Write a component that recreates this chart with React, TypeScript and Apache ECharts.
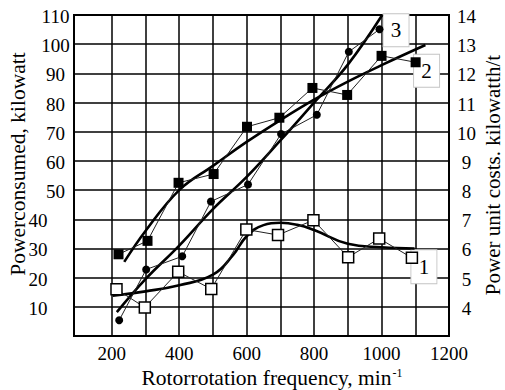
import React, { useEffect, useRef } from "react";
import * as echarts from "echarts";

// Axis ticks / grid
const xLabelValues = [200, 400, 600, 800, 1000, 1200];
const xGridValues = [200, 300, 400, 500, 600, 700, 800, 900, 1000, 1100];

// Measured points (x = rotor rotation frequency, y = power consumed on the left scale)
const curve1Points: [number, number][] = [
  [214, 16], [298, 9.8], [397, 22], [495, 16.1], [599, 36.5],
  [693, 34.6], [798, 39.7], [901, 27], [993, 33.4], [1090, 26.8],
];
const curve2Points: [number, number][] = [
  [220, 28], [306, 32.6], [398, 52.5], [502, 55.5], [601, 71.7],
  [697, 74.8], [795, 85], [898, 82.6], [1000, 96], [1101, 93.8],
];
const curve3Points: [number, number][] = [
  [222, 5.4], [302, 22.8], [409, 27.3], [494, 46.1], [604, 51.9],
  [702, 69.2], [808, 75.8], [903, 97.4], [994, 105.1],
];

// Fitted (trend) curves
const fit1: [number, number][] = [
  [203, 13.8], [300, 15.3], [400, 17.4], [500, 21], [560, 27.8],
  [600, 34.2], [650, 38], [700, 38.8], [750, 38.1], [800, 36.3],
  [900, 31.6], [1000, 30.4], [1098, 30],
];
const fit2: [number, number][] = [
  [237, 25.4], [300, 36], [400, 50], [500, 58.3], [600, 66.5],
  [700, 74], [800, 81], [900, 87.2], [1000, 92.8], [1130, 99.7],
];
const fit3: [number, number][] = [
  [215, 8.2], [300, 19.5], [400, 31], [500, 43.5], [600, 54.5],
  [700, 67], [800, 80], [900, 93], [1002, 110],
];

const curveLabels = ["1", "2", "3"];

const FONT = "Liberation Serif, Times New Roman, serif";

export default function App() {
  const ref = useRef<HTMLDivElement>(null);
  useEffect(() => {
    if (!ref.current) return;
    const chart = echarts.init(ref.current, null, { renderer: "svg" });

    const boxLabel = (
      pt: [number, number],
      text: string,
      offset: [number, number],
      size: [number, number]
    ) => ({
      z: 1,
      silent: true,
      data: [
        {
          coord: pt,
          symbol: "rect",
          symbolSize: size,
          symbolOffset: offset,
          itemStyle: { color: "#fff", borderColor: "#c4c4c4", borderWidth: 1 },
          label: {
            show: true,
            position: "inside",
            formatter: text,
            fontFamily: FONT,
            fontSize: 21,
            color: "#000",
          },
        },
      ],
    });

    const labelStyle = { fontFamily: FONT, fontSize: 19, color: "#000" };

    chart.setOption({
      animation: false,
      backgroundColor: "#fff",
      textStyle: { fontFamily: FONT },
      grid: {
        left: 74,
        top: 15,
        width: 375,
        height: 321,
        show: true,
        borderColor: "#000",
        borderWidth: 2,
        backgroundColor: "transparent",
      },
      xAxis: {
        type: "value",
        min: 88,
        max: 1200,
        axisLine: { show: false },
        axisTick: { show: false },
        splitLine: { show: false },
        axisLabel: {
          ...labelStyle,
          customValues: xLabelValues,
          margin: 8,
          formatter: (v: number) => String(v),
        },
      },
      yAxis: [
        {
          type: "value",
          min: 0,
          max: 110,
          interval: 10,
          position: "left",
          axisLine: { show: false },
          axisTick: { show: false },
          splitLine: { show: true, lineStyle: { color: "#000", width: 1.5 } },
          axisLabel: {
            ...labelStyle,
            showMinLabel: false,
            align: "center",
            margin: 18.5,
            formatter: (v: number) => (v <= 40 ? `{lo|${v}}` : `{hi|${v}}`),
            rich: {
              lo: { fontFamily: FONT, fontSize: 19, color: "#000", padding: [3, 35, 0, 0] },
              hi: { fontFamily: FONT, fontSize: 19, color: "#000", padding: [3, 0, 0, 0] },
            },
          },
        },
        {
          type: "value",
          min: 3,
          max: 14,
          interval: 1,
          position: "right",
          axisLine: { show: false },
          axisTick: { show: false },
          splitLine: { show: false },
          axisLabel: {
            ...labelStyle,
            showMinLabel: false,
            align: "center",
            margin: 17.5,
            formatter: (v: number) => `{r|${v}}`,
            rich: { r: { fontFamily: FONT, fontSize: 19, color: "#000", padding: [3, 0, 0, 0] } },
          },
        },
      ],
      series: [
        {
          type: "line",
          data: fit1,
          smooth: 0.45,
          showSymbol: false,
          silent: true,
          lineStyle: { color: "#000", width: 2.6 },
          markLine: {
            z: 1,
            silent: true,
            symbol: ["none", "none"],
            label: { show: false },
            lineStyle: { color: "#000", width: 1.5, type: "solid" },
            data: xGridValues.map((v) => ({ xAxis: v })),
          },
        },
        {
          type: "line",
          data: fit2,
          smooth: 0.4,
          showSymbol: false,
          silent: true,
          lineStyle: { color: "#000", width: 2.6 },
        },
        {
          type: "line",
          data: fit3,
          smooth: 0.4,
          showSymbol: false,
          silent: true,
          lineStyle: { color: "#000", width: 2.6 },
        },
        {
          type: "line",
          data: curve1Points,
          symbol: "rect",
          symbolSize: 11,
          silent: true,
          lineStyle: { color: "#222", width: 1 },
          itemStyle: { color: "#fff", borderColor: "#000", borderWidth: 1.5 },
          markPoint: boxLabel(curve1Points[curve1Points.length - 1], curveLabels[0], [12, 9], [26, 34]),
        },
        {
          type: "line",
          data: curve2Points,
          symbol: "rect",
          symbolSize: 10,
          silent: true,
          lineStyle: { color: "#222", width: 1 },
          itemStyle: { color: "#000", borderColor: "#000", borderWidth: 0 },
          markPoint: boxLabel(curve2Points[curve2Points.length - 1], curveLabels[1], [11, 8.5], [26, 33]),
        },
        {
          type: "line",
          data: curve3Points,
          symbol: "circle",
          symbolSize: 8,
          silent: true,
          lineStyle: { color: "#222", width: 1 },
          itemStyle: { color: "#000", borderColor: "#000", borderWidth: 0 },
          markPoint: boxLabel(curve3Points[curve3Points.length - 1], curveLabels[2], [16.5, 1], [26, 33]),
        },
      ],
      graphic: [
        {
          type: "text",
          x: 272,
          y: 378,
          style: {
            text: "{n|Rotorrotation frequency, min}{s|-1}",
            textAlign: "center",
            textVerticalAlign: "middle",
            fill: "#000",
            fontFamily: FONT,
            fontSize: 21.5,
            rich: {
              n: { fontFamily: FONT, fontSize: 21.5, fill: "#000" },
              s: { fontFamily: FONT, fontSize: 12, fill: "#000", verticalAlign: "top", padding: [0, 0, 0, 1] },
            },
          },
        },
        {
          type: "text",
          x: 18,
          y: 164,
          rotation: Math.PI / 2,
          style: {
            text: "Powerconsumed, kilowatt",
            textAlign: "center",
            textVerticalAlign: "middle",
            fill: "#000",
            fontFamily: FONT,
            fontSize: 21.5,
          },
        },
        {
          type: "text",
          x: 493,
          y: 175,
          rotation: Math.PI / 2,
          style: {
            text: "Power unit costs. kilowatth/t",
            textAlign: "center",
            textVerticalAlign: "middle",
            fill: "#000",
            fontFamily: FONT,
            fontSize: 21,
          },
        },
      ],
    });

    return () => chart.dispose();
  }, []);

  return (
    <div
      ref={ref}
      style={{ position: "absolute", left: 0, top: 0, width: 505, height: 390, background: "#fff" }}
    />
  );
}
